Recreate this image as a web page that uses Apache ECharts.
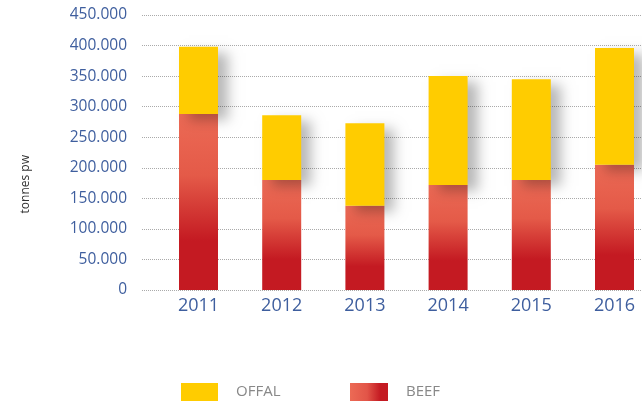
<!DOCTYPE html>
<html>
<head>
<meta charset="utf-8">
<script src="https://cdn.jsdelivr.net/npm/echarts@6/dist/echarts.min.js"></script>
<style>
  html, body { margin: 0; padding: 0; background: #fff; }
  #chart { width: 642px; height: 401px; }
</style>
</head>
<body>
<div id="chart"></div>
<script>
var years = ['2011', '2012', '2013', '2014', '2015', '2016']
var beef = [288000, 180000, 138000, 172000, 180000, 205000]
var offal = [110000, 106000, 135000, 178000, 165000, 191000]
var yMax = 450000
var yStep = 50000

var labelBlue = '#3E5E9E'

function fmt(v){
    // dot as thousands separator
    return String(v).replace(/\B(?=(\d{3})+(?!\d))/g, '.')
}

var myChart = echarts.init(document.getElementById('chart'))

var beefColor = new echarts.graphic.LinearGradient(0, 0, 0, 1, [
    { offset: 0, color: '#EC6A55' },
    { offset: 0.35, color: '#E45A48' },
    { offset: 0.72, color: '#C41A22' },
    { offset: 1, color: '#C41A22' }
])

var option = {
    animation: false,
    textStyle: { fontFamily: 'Open Sans' },
    grid: [
        { left: 142, right: 0, top: 15, bottom: 111 },
        { left: 198.5, right: 27.5, top: 15, bottom: 111 }
    ],
    xAxis: [
        { gridIndex: 0, type: 'category', data: years, show: false },
        {
            gridIndex: 1, type: 'category', data: years, boundaryGap: false,
            axisLine: { show: false }, axisTick: { show: false },
            axisLabel: { color: labelBlue, fontSize: 18, margin: 7 }
        }
    ],
    yAxis: [
        {
            gridIndex: 0, type: 'value', min: 0, max: yMax, interval: yStep,
            axisLine: { show: false }, axisTick: { show: false },
            axisLabel: { color: labelBlue, fontSize: 15.5, margin: 15, formatter: fmt },
            splitLine: { lineStyle: { color: '#aaa', type: 'dotted', width: 1 } }
        },
        {
            gridIndex: 1, type: 'value', min: 0, max: yMax, interval: yStep,
            show: false, splitLine: { show: false }
        }
    ],
    legend: [
        {
            left: 176, top: 378, itemWidth: 37, itemHeight: 18, icon: 'rect',
            textStyle: { color: '#888', fontSize: 15, padding: [0, 0, 0, 13] },
            data: [{ name: 'OFFAL', itemStyle: { color: '#FFCC00' } }]
        },
        {
            left: 345, top: 378, itemWidth: 38, itemHeight: 18, icon: 'rect',
            textStyle: { color: '#888', fontSize: 15, padding: [0, 0, 0, 13] },
            data: [{
                name: 'BEEF',
                itemStyle: {
                    color: new echarts.graphic.LinearGradient(0, 0, 1, 0, [
                        { offset: 0, color: '#EC6A55' },
                        { offset: 0.45, color: '#E25548' },
                        { offset: 0.8, color: '#C41A22' },
                        { offset: 1, color: '#C41A22' }
                    ])
                }
            }]
        }
    ],
    graphic: [
        {
            type: 'text', left: 20, top: 155, rotation: Math.PI / 2,
            style: { text: 'tonnes pw', fill: '#333', fontSize: 12, fontFamily: 'Open Sans' }
        }
    ],
    series: [
        {
            name: 'BEEF', type: 'bar', stack: 'total', xAxisIndex: 1, yAxisIndex: 1,
            barWidth: 39, data: beef,
            itemStyle: { color: beefColor }
        },
        {
            name: 'OFFAL', type: 'bar', stack: 'total', xAxisIndex: 1, yAxisIndex: 1,
            barWidth: 39, data: offal,
            itemStyle: {
                color: '#FFCC00',
                shadowColor: 'rgba(0,0,0,0.28)', shadowBlur: 12,
                shadowOffsetX: 10, shadowOffsetY: 6
            }
        }
    ]
}

myChart.setOption(option)
</script>
</body>
</html>
